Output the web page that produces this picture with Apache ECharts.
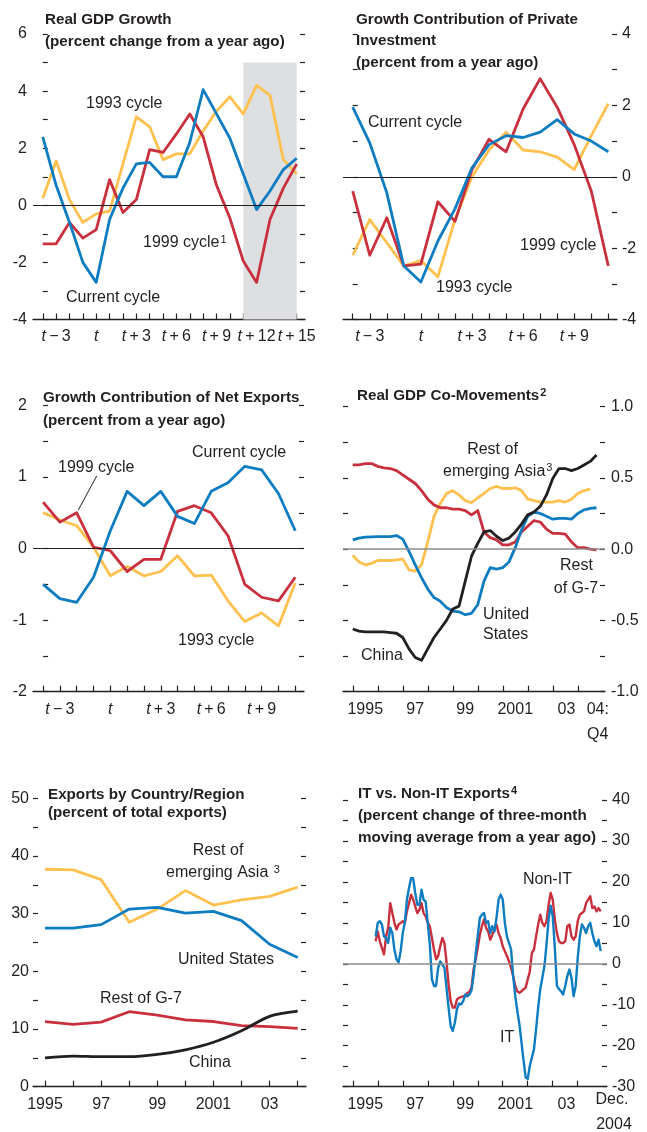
<!DOCTYPE html>
<html><head><meta charset="utf-8">
<script src="https://cdn.jsdelivr.net/npm/echarts@6/dist/echarts.min.js"></script>
<style>html,body{margin:0;padding:0;background:#fff}#c{width:647px;height:1132px}</style>
</head><body><div id="c"></div>
<script>
// ---------------- DATA ----------------
const cyclePeriods = ['t-4','t-3','t-2','t-1','t','t+1','t+2','t+3','t+4','t+5','t+6','t+7','t+8','t+9','t+10','t+11','t+12','t+13','t+14','t+15'];
const cycleTickLabels = ['t − 3','t','t + 3','t + 6','t + 9','t + 12','t + 15'];
const cycleTickIndex = [1,4,7,10,13,16,19];

// Panel 1: Real GDP growth
const gdpCurrent = [2.4,0.7,-0.6,-2.0,-2.7,-0.5,0.6,1.45,1.5,1.0,1.0,2.2,4.05,3.2,2.35,1.1,-0.15,0.5,1.25,1.65];
const gdp1993    = [0.25,1.55,0.2,-0.6,-0.3,-0.2,1.45,3.1,2.75,1.6,1.8,1.8,2.6,3.3,3.8,3.2,4.2,3.85,1.6,1.1];
const gdp1999    = [-1.35,-1.35,-0.6,-1.15,-0.85,0.9,-0.25,0.2,1.95,1.85,2.5,3.2,2.4,0.7,-0.45,-1.95,-2.7,-0.5,0.6,1.45];

// Panel 2: private investment contribution
const invCurrent = [1.95,0.95,-0.45,-2.5,-2.95,-1.8,-0.9,0.25,0.9,1.15,1.1,1.25,1.6,1.2,1.0,0.7];
const inv1993    = [-2.2,-1.2,-1.85,-2.5,-2.35,-2.8,-1.2,0.0,0.75,1.25,0.75,0.7,0.55,0.2,1.15,2.05];
const inv1999    = [-0.4,-2.2,-1.15,-2.5,-2.45,-0.7,-1.25,0.2,1.05,0.7,1.9,2.75,1.95,0.9,-0.4,-2.5];

// Panel 3: net exports contribution
const nxCurrent = [-0.5,-0.7,-0.75,-0.4,0.25,0.8,0.6,0.8,0.45,0.35,0.8,0.92,1.15,1.1,0.77,0.25];
const nx1993    = [0.5,0.4,0.32,0.02,-0.38,-0.25,-0.38,-0.32,-0.1,-0.38,-0.37,-0.73,-1.02,-0.9,-1.08,-0.48];
const nx1999    = [0.65,0.37,0.5,0.02,-0.03,-0.32,-0.15,-0.15,0.52,0.6,0.5,0.18,-0.5,-0.68,-0.73,-0.4];

// Panel 4: real GDP co-movements, quarterly from 1995Q1
const comoveStart = 1995;
const comoveG7    = [0.59,0.59,0.6,0.6,0.58,0.57,0.565,0.55,0.52,0.49,0.46,0.41,0.35,0.31,0.29,0.29,0.28,0.28,0.27,0.24,0.27,0.12,0.08,0.065,0.03,0.03,0.05,0.12,0.16,0.2,0.19,0.14,0.11,0.11,0.105,0.05,0.01,0.01,0,-0.005];
const comoveAsia  = [-0.044,-0.09,-0.11,-0.1,-0.08,-0.08,-0.08,-0.075,-0.07,-0.145,-0.155,-0.11,0.05,0.23,0.32,0.39,0.41,0.38,0.34,0.325,0.36,0.39,0.425,0.44,0.425,0.425,0.43,0.41,0.35,0.34,0.33,0.33,0.33,0.34,0.33,0.35,0.39,0.41,0.42];
const comoveUS    = [0.065,0.077,0.084,0.086,0.088,0.088,0.088,0.095,0.07,-0.016,-0.11,-0.2,-0.28,-0.34,-0.365,-0.41,-0.435,-0.44,-0.46,-0.45,-0.39,-0.225,-0.13,-0.14,-0.13,-0.09,0.01,0.135,0.23,0.26,0.25,0.23,0.21,0.215,0.215,0.21,0.25,0.275,0.285,0.29];
const comoveChina = [-0.56,-0.575,-0.58,-0.58,-0.58,-0.58,-0.585,-0.59,-0.62,-0.7,-0.76,-0.78,-0.7,-0.62,-0.56,-0.5,-0.42,-0.4,-0.225,-0.05,0.04,0.12,0.13,0.09,0.06,0.077,0.12,0.175,0.24,0.26,0.3,0.38,0.495,0.565,0.565,0.55,0.565,0.59,0.615,0.66];
const yearTicks = [1995,1996,1997,1998,1999,2000,2001,2002,2003,2004];
const comoveTickLabels = ['1995','97','99','2001','03','04:\nQ4'];
const comoveLabelPos   = [1995.5,1997.5,1999.5,2001.5,2003.55,2004.8];

// Panel 5: exports by country/region, annual
const exportYears = [1995,1996,1997,1998,1999,2000,2001,2002,2003,2004];
const exportTickLabels = ['1995','97','99','2001','03'];
const exportLabelPos = [1995,1997,1999,2001,2003];
const expAsia  = [37.7,37.6,35.9,28.5,30.8,34.0,31.5,32.4,33.0,34.6];
const expUS    = [27.5,27.5,28.1,30.8,31.1,30.1,30.4,28.8,24.7,22.4];
const expG7    = [11.3,10.8,11.2,13.0,12.4,11.6,11.3,10.6,10.4,10.1];
const expChina = [5.0,5.3,5.2,5.2,5.6,6.4,7.7,9.7,12.2,13.1];

// Panel 6: IT vs non-IT exports, monthly from Dec. 1995 to Dec. 2004
const itStartYear = 1995, itStartMonth = 12;
const itExp = [6.7,10.0,10.4,9.6,6.7,6.3,5.1,8.8,7.5,3.5,
  1.1,0.4,3.1,7.5,10.0,15.7,18.5,20.9,20.9,17.3,
  14.4,14.4,18.1,15.7,15.2,10.0,4.7,-3.8,-5.4,-5.4,
  -1.0,0.6,-0.2,-1.0,-5.8,-10.7,-15.2,-16.4,-14.4,-11.1,
  -9.7,-9.9,-9.1,-7.5,-7.9,-7.5,-6.5,-2.8,2.3,6.8,
  11.2,12.0,12.4,10.0,10.4,7.5,9.2,7.9,11.2,15.7,
  16.9,15.7,10.0,6.7,5.1,3.5,-3.0,-7.9,-11.5,-14.8,
  -19.2,-23.7,-27.7,-28.1,-24.9,-22.9,-20.8,-16.0,-10.7,-6.2,
  -3.4,-0.6,4.7,10.8,14.2,11.6,3.9,-5.4,-6.2,-6.7,
  -7.5,-5.4,-3.0,-1.4,-3.4,-7.9,-5.4,1.5,6.7,9.6,
  8.8,7.5,9.2,10.0,7.5,5.5,4.3,5.9,3.1];
const nonItExp = [5.5,7.9,5.5,3.9,2.3,6.7,8.8,14.8,12.4,10.0,
  8.4,9.6,10.0,10.4,10.0,12.8,14.8,16.9,15.7,14.0,
  12.4,13.2,14.8,12.4,11.6,10.0,9.2,6.3,3.5,1.1,
  1.9,4.3,6.3,5.1,0.6,-5.0,-9.1,-10.7,-10.7,-8.7,
  -8.3,-8.1,-7.9,-7.9,-7.1,-6.9,-5.8,-1.4,1.1,3.9,
  7.1,9.2,10.8,8.8,7.9,5.9,7.1,8.4,9.6,7.5,
  6.3,4.3,3.1,1.9,0.6,-1.0,-3.0,-5.4,-6.7,-7.1,
  -6.7,-6.2,-5.8,-3.8,-1.8,2.7,3.5,6.7,9.6,12.0,
  10.0,9.2,10.4,14.4,17.3,15.7,10.8,7.5,5.5,5.1,
  5.1,5.5,9.2,9.6,6.7,5.9,6.7,10.4,12.0,12.4,
  12.8,14.8,15.7,16.5,13.6,14.0,12.8,13.6,12.8];
const itTickLabels = ['1995','97','99','2001','03'];
const itLabelPos = [1995.5,1997.5,1999.5,2001.5,2003.55];

// ---------------- STYLE ----------------
const FONT = '"Liberation Sans",Arial,Helvetica,sans-serif';
const FS = 16;     // labels and tick labels
const TFS = 15.2;  // bold titles
const INK = '#231f20';
const COL = {blue:'#0e7cc1', red:'#c9303d', orange:'#fec150', black:'#231f20'};
const LW = 2.8;

const P = [
  {left:33,  right:305, top:34,  bottom:319.5, xmin:-0.73,   xmax:19.62},
  {left:343, right:617, top:34,  bottom:319.5, xmin:-0.57,   xmax:15.51},
  {left:33,  right:304, top:405.5, bottom:691.7, xmin:-0.6,  xmax:15.52},
  {left:343, right:605, top:406.5, bottom:691.7, xmin:1994.61, xmax:2005.09},
  {left:33,  right:306, top:798.3, bottom:1086.7, xmin:1994.573, xmax:2004.296},
  {left:343, right:607, top:800, bottom:1086.7, xmin:1994.61, xmax:2005.17}
];
const grids = P.map(p => ({left:p.left, top:p.top, width:p.right-p.left, height:p.bottom-p.top, containLabel:false, outerBoundsMode:'none'}));

const baseLabel = {color:INK, fontFamily:FONT, fontSize:FS};
function xAxis(i, tickVals, labelVals, fmt) {
  // empty guard labels at both ends keep the real end labels from being dropped as min/max overlaps
  const vals = [P[i].xmin + 0.01].concat(labelVals, [P[i].xmax - 0.01]);
  return {type:'value', gridIndex:i, min:P[i].xmin, max:P[i].xmax, position:'bottom',
    axisLine:{show:true, onZero:false, lineStyle:{color:INK, width:1.3}},
    axisTick:{show:true, inside:true, length:6, customValues:tickVals, lineStyle:{color:INK, width:1.2}},
    axisLabel:Object.assign({show:true, margin:5, customValues:vals, formatter:fmt, lineHeight:25,
      hideOverlap:false,
      rich:{i:{fontStyle:'italic', fontFamily:FONT, fontSize:FS, color:INK}}}, baseLabel),
    splitLine:{show:false}};
}
function yAxis(i, pos, min, max, interval, labelVals, fmt, margin) {
  return {type:'value', gridIndex:i, position:pos, min, max, interval,
    axisLine:{show:false}, axisTick:{show:true, inside:true, length:5, lineStyle:{color:INK, width:1.2}},
    axisLabel:Object.assign({show:!!labelVals, margin:margin||6, customValues:labelVals||undefined, formatter:fmt,
      showMaxLabel:true, showMinLabel:true}, baseLabel),
    splitLine:{show:false}};
}
const TS = '\u2009';
const cycFmt = v => {
  const k = cycleTickIndex.findIndex(c => Math.abs(c - v) < 1e-6);
  if (k < 0) return '';
  return '{i|t}' + cycleTickLabels[k].slice(1).replace(/ /g, TS);
};
const mapFmt = (pos, labels) => v => { for (let k=0;k<pos.length;k++) if (Math.abs(pos[k]-v)<1e-6) return labels[k]; return ''; };

const xAxes = [
  xAxis(0, cyclePeriods.map((_,i)=>i), cycleTickIndex, cycFmt),
  xAxis(1, cyclePeriods.slice(0,16).map((_,i)=>i), cycleTickIndex.filter(i=>i<16), cycFmt),
  xAxis(2, cyclePeriods.slice(0,16).map((_,i)=>i), cycleTickIndex.filter(i=>i<16), cycFmt),
  xAxis(3, yearTicks, comoveLabelPos, mapFmt(comoveLabelPos, comoveTickLabels)),
  xAxis(4, exportYears, exportLabelPos, mapFmt(exportLabelPos, exportTickLabels)),
  xAxis(5, yearTicks, itLabelPos, mapFmt(itLabelPos, itTickLabels))
];
const plain = v => String(v);
const yAxes = [
  yAxis(0,'left',-4,6,1,[-4,-2,0,2,4,6],plain,6), yAxis(0,'right',-4,6,1,null),
  yAxis(1,'left',-4,4,1,null), yAxis(1,'right',-4,4,1,[-4,-2,0,2,4],plain,5),
  yAxis(2,'left',-2,2,0.5,[-2,-1,0,1,2],plain,6), yAxis(2,'right',-2,2,0.5,null),
  yAxis(3,'left',-1,1,0.25,null), yAxis(3,'right',-1,1,0.25,[-1,-0.5,0,0.5,1],v=>v.toFixed(1),6),
  yAxis(4,'left',0,50,5,[0,10,20,30,40,50],plain,4), yAxis(4,'right',0,50,5,null),
  yAxis(5,'left',-30,40,5,null), yAxis(5,'right',-30,40,5,[-30,-20,-10,0,10,20,30,40],plain,5)
];

function line(xi, yi, data, color, extra) {
  return Object.assign({type:'line', xAxisIndex:xi, yAxisIndex:yi, data, symbol:'none', showSymbol:false,
    lineStyle:{color, width:LW, join:'round'}, itemStyle:{color}, silent:true, animation:false, z:3}, extra||{});
}
function zeroLine(xi, yi, color, width) {
  return {type:'line', xAxisIndex:xi, yAxisIndex:yi, data:[], silent:true, animation:false, z:2,
    markLine:{silent:true, symbol:'none', animation:false, label:{show:false},
      lineStyle:{color, width, type:'solid'}, data:[{yAxis:0}]}};
}
const idx = a => a.map((v,i)=>[i,v]);
const qtr = a => a.map((v,j)=>[comoveStart + j/4, v]);
const ann = a => a.map((v,i)=>[exportYears[i], v]);
const mon = a => a.map((v,k)=>[itStartYear + (itStartMonth-1)/12 + k/12, v]);

const series = [
  // panel 1
  {type:'line', xAxisIndex:0, yAxisIndex:0, data:[], silent:true, animation:false, z:1,
    markArea:{silent:true, itemStyle:{color:'#dedfe1'}, data:[[{xAxis:15, yAxis:5},{xAxis:19, yAxis:-4}]]}},
  zeroLine(0,0,INK,1),
  line(0,0,idx(gdp1993),COL.orange), line(0,0,idx(gdp1999),COL.red), line(0,0,idx(gdpCurrent),COL.blue),
  // panel 2
  zeroLine(1,3,INK,1),
  line(1,3,idx(inv1993),COL.orange), line(1,3,idx(inv1999),COL.red), line(1,3,idx(invCurrent),COL.blue),
  // panel 3
  zeroLine(2,4,INK,1),
  line(2,4,idx(nx1993),COL.orange), line(2,4,idx(nx1999),COL.red), line(2,4,idx(nxCurrent),COL.blue),
  // panel 4
  zeroLine(3,7,'#8c8c8c',1.6),
  line(3,7,qtr(comoveAsia),COL.orange), line(3,7,qtr(comoveG7),COL.red), line(3,7,qtr(comoveUS),COL.blue), line(3,7,qtr(comoveChina),COL.black),
  // panel 5
  line(4,8,ann(expAsia),COL.orange), line(4,8,ann(expUS),COL.blue), line(4,8,ann(expG7),COL.red), line(4,8,ann(expChina),COL.black,{smooth:0.3}),
  // panel 6
  zeroLine(5,11,'#8c8c8c',1.6),
  line(5,11,mon(nonItExp),COL.red,{lineStyle:{color:COL.red,width:2.4,join:'round'}}),
  line(5,11,mon(itExp),COL.blue,{lineStyle:{color:COL.blue,width:2.4,join:'round'}})
];

// ---------------- TEXT ----------------
const SUP = {s:{fontSize:11, fontFamily:FONT, fill:INK, verticalAlign:'top', padding:[0,0,7,1]}};
const SUPB = {s:{fontSize:11, fontFamily:FONT, fontWeight:'bold', fill:INK, verticalAlign:'top', padding:[0,0,7,1]}};
function T(x, y, text, o) {
  o = o || {};
  const st = {text, fill:INK, font:(o.bold?'bold ':'') + (o.size||(o.bold?TFS:FS)) + 'px ' + FONT,
    align:o.align||'left', verticalAlign:'middle', textAlign:o.align||'left', textVerticalAlign:'middle'};
  if (o.rich) st.rich = o.rich;
  return {type:'text', x, y, silent:true, z:10, style:st};
}
const B = {bold:true};
const graphics = [
  T(45,19.5,'Real GDP Growth',B), T(45,41.5,'(percent change from a year ago)',B),
  T(86,103.5,'1993 cycle'), T(143,243,'1999 cycle{s|1}',{rich:SUP}), T(66,297.5,'Current cycle'),

  T(356,19.5,'Growth Contribution of Private',B), T(356,41,'Investment',B), T(356,62.5,'(percent from a year ago)',B),
  T(368,122.5,'Current cycle'), T(520,245.5,'1999 cycle'), T(436,287.5,'1993 cycle'),

  T(43,397.5,'Growth Contribution of Net Exports',B), T(43,420.5,'(percent from a year ago)',B),
  T(192,452.5,'Current cycle'), T(58,467.5,'1999 cycle'), T(178,640.5,'1993 cycle'),
  {type:'line', silent:true, z:10, shape:{x1:96.7,y1:476,x2:78.3,y2:510}, style:{stroke:INK, lineWidth:1}},

  T(357,396,'Real GDP Co-Movements{s|2}',{bold:true,rich:SUPB}),
  T(492.5,450,'Rest of',{align:'center'}), T(443,471.5,'emerging Asia{s|3}',{rich:SUP}),
  T(576.5,565.5,'Rest',{align:'center'}), T(576,588.5,'of G-7',{align:'center'}),
  T(483,614.5,'United'), T(483,635,'States'), T(361,656,'China'),

  T(48,794.5,'Exports by Country/Region',B), T(48,812.5,'(percent of total exports)',B),
  T(218,850.5,'Rest of',{align:'center'}), T(166,873,'emerging Asia {s|3}',{rich:SUP}),
  T(178,960,'United States'), T(100,998.5,'Rest of G-7'), T(189,1062.5,'China'),

  T(358,794,'IT vs. Non-IT Exports{s|4}',{bold:true,rich:SUPB}),
  T(358,815.5,'(percent change of three-month',B), T(358,837.5,'moving average from a year ago)',B),
  T(523,879.5,'Non-IT'), T(500,1037.5,'IT'),
  T(612,1100,'Dec.',{align:'center'}), T(614,1125,'2004',{align:'center'})
];

const chart = echarts.init(document.getElementById('c'), null, {renderer:'canvas'});
chart.setOption({
  animation:false, backgroundColor:'#ffffff',
  grid:grids, xAxis:xAxes, yAxis:yAxes, series, graphic:graphics
});
</script>
</body></html>
